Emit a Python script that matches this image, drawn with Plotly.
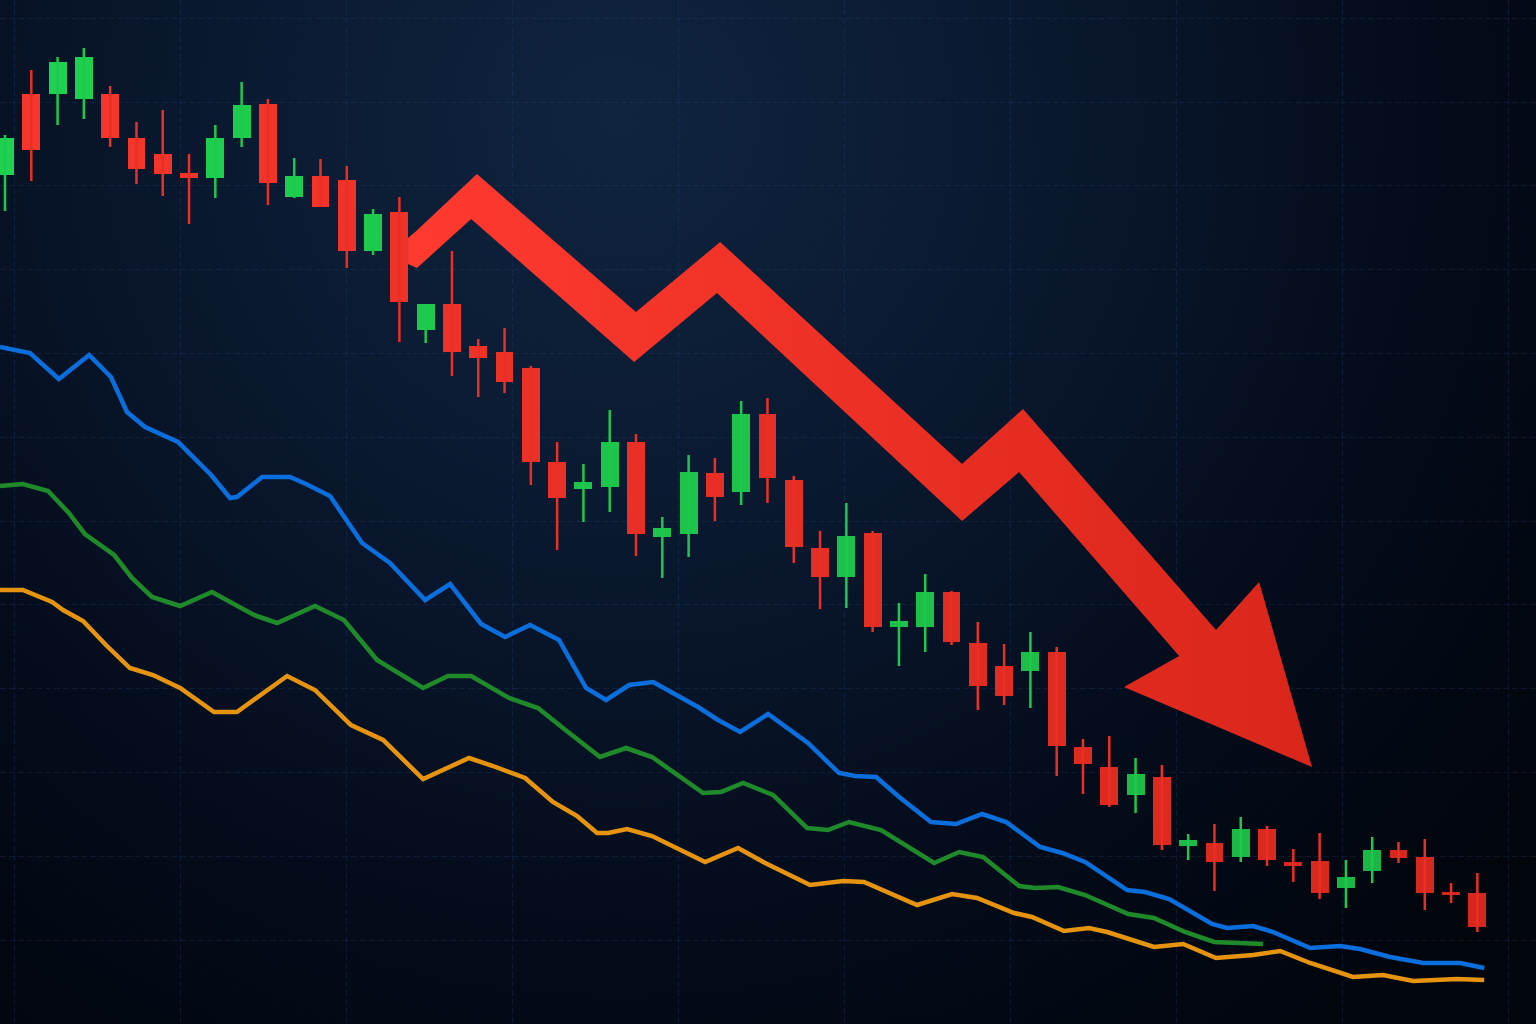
import base64
import plotly.graph_objects as go

# ---------------- data ----------------
# candle index (one candle per session)
opens = [849,930,930,925,930,886,870,851,846,886,920,827,848,844,773,812,694,720,678,672,656,562,535,537,582,487,490,551,532,610,544,476,447,491,397,397,432,381,358,353,372,277,257,229,247,178,181,167,195,162,163,136,153,174,167,131,131]
closes = [886,874,962,967,886,855,850,846,886,919,841,848,817,773,810,722,720,672,666,642,562,526,542,582,490,496,552,527,610,546,477,447,488,397,403,432,382,338,328,372,278,260,219,250,179,184,162,195,164,158,131,147,174,166,131,129,97]
highs = [889,954,967,976,938,902,914,870,899,942,925,866,865,858,815,827,720,773,685,696,658,582,560,614,590,507,569,566,623,626,548,493,521,493,421,450,433,402,380,392,377,285,288,266,259,190,200,207,198,175,191,164,187,182,185,141,151]
lows = [813,843,899,905,877,840,828,800,826,877,819,826,817,756,769,682,681,648,627,631,539,474,502,512,468,446,467,503,519,521,461,415,416,392,358,372,379,314,319,316,248,230,217,211,174,164,133,162,158,142,125,116,141,161,114,121,92]

blue_t = [-0.19,0.95,2.05,3.20,4.03,4.64,5.33,6.58,7.84,8.56,8.82,9.78,10.84,11.45,12.36,13.58,14.64,15.98,16.93,18.11,19.02,19.97,21.07,22.10,22.86,23.74,24.65,25.26,26.36,27.12,27.96,29.02,30.54,31.72,32.33,33.13,34.01,35.22,36.17,37.16,38.08,39.37,40.21,41.08,42.68,43.36,44.28,45.91,46.48,47.47,48.23,49.64,50.78,51.54,52.68,53.94,55.35,56.26]
blue_v = [677,671,645,669,647,612,597,582,549,526,527,547,547,540,528,481,461,424,440,400,387,399,384,336,324,339,342,333,317,304,292,310,281,251,248,247,227,202,200,210,202,177,171,162,134,132,125,100,96,98,92,76,78,75,67,61,61,56]

green_t = [-0.19,0.68,1.64,2.43,3.04,4.15,4.83,5.59,6.66,7.87,9.47,10.35,11.79,12.89,14.15,15.90,16.85,17.73,19.17,20.27,21.22,22.63,23.62,24.61,26.55,27.23,28.07,29.21,30.51,31.30,32.10,33.32,35.34,36.29,37.20,38.57,39.18,40.05,41.08,42.72,43.70,44.88,45.99,47.85]
green_v = [538,540,533,511,490,469,446,427,418,432,409,401,418,404,364,336,348,348,326,316,296,267,276,267,231,232,241,229,196,194,202,194,161,172,167,138,136,137,129,110,106,92,82,80]

orange_t = [-0.19,0.68,1.79,2.21,2.97,3.84,4.75,5.63,6.66,7.95,8.82,10.73,11.79,13.16,14.38,15.90,17.65,18.56,19.78,20.84,21.76,22.52,22.94,23.66,24.61,26.63,27.88,28.91,30.62,31.88,32.67,34.69,36.02,36.97,38.38,39.06,40.28,41.23,41.92,43.70,44.81,46.06,47.47,48.50,49.64,51.27,52.41,53.56,55.23,56.26]
orange_v = [434,434,422,414,403,379,356,349,336,312,312,348,334,299,284,245,266,258,246,222,208,191,191,195,188,162,176,161,139,143,142,119,130,126,111,107,93,96,92,77,80,66,69,73,61,47,49,43,45,44]

# trend-arrow outline (chart units: session, level)
arrow_t = [15.33,15.60,17.95,24.00,27.20,36.40,38.72,46.06,47.70,49.71,42.56,44.66,38.57,36.40,27.08,23.93,17.73,15.67,15.33]
arrow_v = [786,792,850,712,782,560,615,394,442,257,337,368,552,503,731,662,805,756,760]

# ---------------- styling helpers ----------------
def mix(c1, c2, f):
    a = [int(c1[i:i + 2], 16) for i in (1, 3, 5)]
    b = [int(c2[i:i + 2], 16) for i in (1, 3, 5)]
    return "#" + "".join(f"{round(a[k] + (b[k] - a[k]) * f):02x}" for k in range(3))

n = len(opens)
idx = list(range(n))
cols = []
for i in idx:
    f = i / (n - 1)
    if closes[i] >= opens[i]:
        cols.append(mix("#1fd250", "#1bb444", f))
    else:
        cols.append(mix("#f8372c", "#d5271d", f))

fig = go.Figure()

# wicks
for up in (True, False):
    xs, ys = [], []
    for i in idx:
        if (closes[i] >= opens[i]) == up:
            xs += [i, i, None]
            ys += [lows[i], highs[i], None]
    fig.add_trace(go.Scatter(
        x=xs, y=ys, mode="lines",
        line=dict(color="#1ec84c" if up else "#ea2f25", width=2.5),
        hoverinfo="skip", showlegend=False))

# bodies
fig.add_trace(go.Bar(
    x=idx,
    base=[min(o, c) for o, c in zip(opens, closes)],
    y=[max(abs(c - o), 3) for o, c in zip(opens, closes)],
    width=0.68,
    marker=dict(color=cols, line=dict(width=0)),
    hoverinfo="skip", showlegend=False))

# moving-average style lines
fig.add_trace(go.Scatter(x=orange_t, y=orange_v, mode="lines",
                         line=dict(color="#e6940f", width=4.5),
                         hoverinfo="skip", showlegend=False))
fig.add_trace(go.Scatter(x=green_t, y=green_v, mode="lines",
                         line=dict(color="#1f8a2a", width=4.5),
                         hoverinfo="skip", showlegend=False))
fig.add_trace(go.Scatter(x=blue_t, y=blue_v, mode="lines",
                         line=dict(color="#0a6fdc", width=4.5),
                         hoverinfo="skip", showlegend=False))

# big red trend arrow
fig.add_trace(go.Scatter(
    x=arrow_t + [arrow_t[0]], y=arrow_v + [arrow_v[0]],
    mode="lines", fill="toself",
    fillgradient=dict(type="horizontal",
                      colorscale=[[0, "#ff3a2f"], [1, "#d9261b"]]),
    line=dict(width=0, color="rgba(0,0,0,0)"),
    hoverinfo="skip", showlegend=False))

# background gradient
svg = ('<svg xmlns="http://www.w3.org/2000/svg" width="1536" height="1024" '
       'viewBox="0 0 1536 1024" preserveAspectRatio="none"><defs>'
       '<radialGradient id="g" cx="620" cy="120" r="1150" gradientUnits="userSpaceOnUse">'
       '<stop offset="0" stop-color="#10243f"/><stop offset="0.35" stop-color="#0a1930"/>'
       '<stop offset="0.7" stop-color="#040c1b"/><stop offset="1" stop-color="#01050c"/>'
       '</radialGradient></defs><rect width="1536" height="1024" fill="url(#g)"/></svg>')
src = "data:image/svg+xml;base64," + base64.b64encode(svg.encode()).decode()

grid_col = "rgba(50,90,145,0.20)"
fig.update_layout(
    width=1536, height=1024,
    margin=dict(l=0, r=0, t=0, b=0),
    paper_bgcolor="#030a16",
    plot_bgcolor="rgba(0,0,0,0)",
    images=[dict(source=src, xref="paper", yref="paper", x=0, y=1,
                 sizex=1, sizey=1, sizing="stretch", layer="below",
                 xanchor="left", yanchor="top")],
    bargap=0, hovermode=False, showlegend=False,
    xaxis=dict(range=[-0.19, 58.23], showticklabels=False, zeroline=False,
               showgrid=True, gridcolor=grid_col, gridwidth=1, griddash="6px,3px",
               tick0=6.66, dtick=6.314, ticks="", fixedrange=True),
    yaxis=dict(range=[0, 1024], showticklabels=False, zeroline=False,
               showgrid=True, gridcolor=grid_col, gridwidth=1, griddash="6px,3px",
               tick0=84, dtick=83.8, ticks="", fixedrange=True),
)

fig.write_html("out.html", config=dict(displayModeBar=False),
               post_script="document.body.style.margin='0';document.body.style.overflow='hidden';")
